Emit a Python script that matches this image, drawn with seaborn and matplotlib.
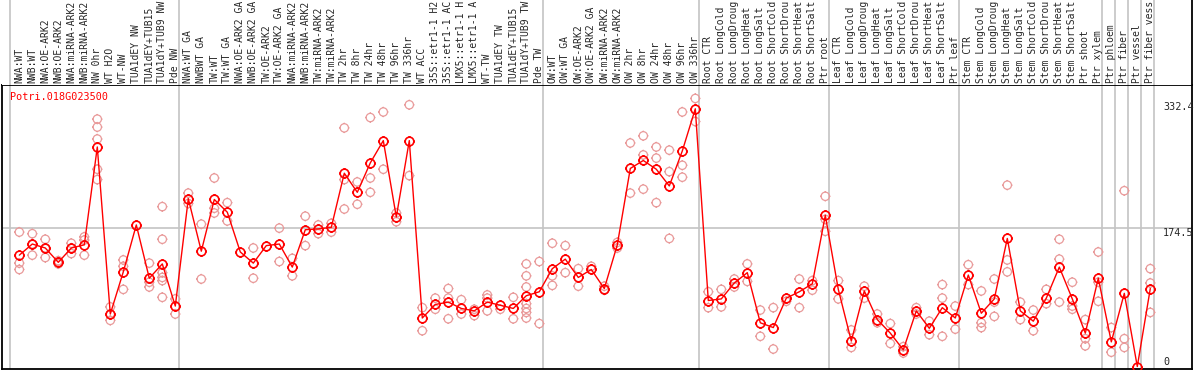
import numpy as np
import pandas as pd
import matplotlib
matplotlib.use("Agg")
import matplotlib.pyplot as plt
import matplotlib.transforms as mtransforms
from matplotlib.path import Path
import seaborn as sns

sns.set_theme(style="white")
plt.rcParams["font.family"] = ["DejaVu Sans Mono", "DejaVu Sans"]

GENE = "Potri.018G023500"

labels = [
    # group 1
    "NWA:WT", "NWB:WT", "NWA:OE-ARK2", "NWB:OE-ARK2", "NWA:miRNA-ARK2", "NWB:miRNA-ARK2",
    "NW 0hr", "WT H2O", "WT-NW", "TUA1dEY NW", "TUA1dEY+TUB15", "TUA1dY+TUB9 NW", "Pde NW",
    # group 2
    "NWA:WT GA", "NWBWT GA", "TW:WT", "TW:WT GA", "NWA:OE-ARK2 GA", "NWB:OE-ARK2 GA",
    "TW:OE-ARK2", "TW:OE-ARK2 GA", "NWA:miRNA-ARK2", "NWB:miRNA-ARK2", "TW:miRNA-ARK2",
    "TW:miRNA-ARK2", "TW 2hr", "TW 8hr", "TW 24hr", "TW 48hr", "TW 96hr", "TW 336hr",
    "WT ACC", "35S::etr1-1 H2O", "35S::etr1-1 ACC", "LMX5::etr1-1 H2O", "LMX5::etr1-1 ACC",
    "WT-TW", "TUA1dEY TW", "TUA1dEY+TUB15", "TUA1dY+TUB9 TW", "Pde TW",
    # group 3
    "OW:WT", "OW:WT GA", "OW:OE-ARK2", "OW:OE-ARK2 GA", "OW:miRNA-ARK2", "OW:miRNA-ARK2",
    "OW 2hr", "OW 8hr", "OW 24hr", "OW 48hr", "OW 96hr", "OW 336hr",
    # root
    "Root CTR", "Root LongCold", "Root LongDrought", "Root LongHeat", "Root LongSalt",
    "Root ShortCold", "Root ShortDrought", "Root ShortHeat", "Root ShortSalt", "Ptr root",
    # leaf
    "Leaf CTR", "Leaf LongCold", "Leaf LongDrought", "Leaf LongHeat", "Leaf LongSalt",
    "Leaf ShortCold", "Leaf ShortDrought", "Leaf ShortHeat", "Leaf ShortSalt", "Ptr leaf",
    # stem
    "Stem CTR", "Stem LongCold", "Stem LongDrought", "Stem LongHeat", "Stem LongSalt",
    "Stem ShortCold", "Stem ShortDrought", "Stem ShortHeat", "Stem ShortSalt", "Ptr shoot",
    "Ptr xylem",
    # tissues
    "Ptr phloem", "Ptr fiber", "Ptr vessel", "Ptr fiber vessel",
]

# the header strip only has room for about 14 characters
MAX_CHARS = 14

# group boundaries (index of first sample in each group, plus the end)
group_breaks = [0, 13, 41, 53, 63, 73, 84, 85, 86, 87, 88]

means = [
    140, 154, 149, 131, 149, 153, 276, 66, 119, 178, 111, 129, 76,
    211, 145, 210, 194, 144, 130, 152, 154, 125, 172, 173, 175, 243, 219, 256, 284,
    188, 284, 61, 78, 81, 73, 70, 81, 77, 73, 89, 94,
    123, 135, 112, 122, 98, 153, 249, 259, 248, 227, 271, 324,
    83, 85, 105, 118, 55, 49, 86, 94, 104, 190,
    97, 32, 95, 59, 42, 21, 70, 48, 74, 61,
    115, 67, 85, 161, 70, 57, 86, 125, 85, 42, 111,
    31, 92, 0, 98,
]

reps = [
    [169, 130, 122], [167, 154, 140], [160, 149, 137], [133, 131, 129], [155, 149, 142],
    [163, 159, 140], [311, 301, 286, 248, 235], [75, 66, 58], [134, 126, 97], [],
    [130, 106, 100], [201, 160, 118, 112, 108, 87], [85, 66],
    [218, 205], [179, 110], [237, 199, 193], [206, 183], [], [149, 111], [],
    [174, 132], [136, 114], [189, 152], [178, 167], [180, 169], [300, 235, 198],
    [232, 204], [313, 237, 219], [320, 248], [193, 182], [329, 240], [74, 45],
    [86, 72], [98, 86, 60], [84, 66], [72, 64], [90, 86, 70], [72], [87, 60],
    [129, 114, 100, 79, 73, 68, 61], [132, 54],
    [155, 114, 102], [152, 118], [123, 101], [126], [101, 96], [156, 149],
    [281, 218], [290, 266, 223], [276, 262, 206], [272, 245, 161], [320, 253, 238],
    [337, 308],
    [94, 74], [97, 75], [110, 100], [129, 107], [71, 38], [74, 22], [82], [110, 74],
    [108, 96], [214, 185, 170],
    [108, 85], [46, 24], [101, 86], [66, 55], [54, 29], [25, 17], [74, 66], [57, 40],
    [103, 86, 38], [76, 47],
    [128, 103], [95, 55, 49], [110, 81, 63], [228, 134, 119], [81, 59], [71, 45],
    [97, 79], [160, 135, 81], [106, 76, 72], [59, 35, 26], [144, 106, 82],
    [49, 18], [221, 35, 24], [], [123, 105, 68],
]

y_ticks = [332.4, 174.5, 0]

mean_df = pd.DataFrame({"idx": np.arange(len(labels)), "value": means})
rep_df = pd.DataFrame(
    [(i, v) for i, vals in enumerate(reps) for v in vals], columns=["idx", "value"]
)


def tick_circle(tick=1.25):
    circ = Path.unit_circle()
    verts = list(circ.vertices)
    codes = list(circ.codes)
    for ang in (0, 90, 180, 270):
        a = np.deg2rad(ang)
        verts += [(np.cos(a), np.sin(a)), (tick * np.cos(a), tick * np.sin(a))]
        codes += [Path.MOVETO, Path.LINETO]
    return Path(verts, codes)


MARK = tick_circle()
RED = "#FF0000"
PINK = "#E99A9A"
GRID = "#C4C4C4"

W, H = 1194, 370
fig = plt.figure(figsize=(W / 100, H / 100), dpi=100)
left, right = 1.5 / W, 1192 / W
ax = fig.add_axes([left, 1 / H, right - left, 284 / H])
ax_lab = fig.add_axes([left, 285 / H, right - left, 85 / H], sharex=ax)

# x: sample index; pixel = 19.3 + 13 * idx
x0, x1 = (1.5 - 19.3) / 13, (1192 - 19.3) / 13
sep_off = (10 - 19.3) / 13

for a in (ax, ax_lab):
    for b in group_breaks:
        a.axvline(b + sep_off, color=GRID, lw=1.2, zorder=0)

ax.axhline(174.5, color=GRID, lw=1.2, zorder=0)

sns.scatterplot(data=rep_df, x="idx", y="value", marker=MARK, s=56,
                facecolor="none", edgecolor=PINK, linewidth=0.9, ax=ax, zorder=2)
sns.lineplot(data=mean_df, x="idx", y="value", sort=False, errorbar=None,
             color=RED, linewidth=1.0, marker=MARK, markersize=7.8,
             markerfacecolor="none", markeredgecolor=RED, markeredgewidth=1.2,
             ax=ax, zorder=3)

for a in (ax, ax_lab):
    a.set_xticks([])
    a.set_yticks([])
    a.set_xlabel("")
    a.set_ylabel("")
ax.set_xlim(x0, x1)
ax.set_ylim(-3.1, 353.9)

for sp in ax.spines.values():
    sp.set_color("black")
    sp.set_linewidth(1.3)
for name, sp in ax_lab.spines.items():
    sp.set_visible(name == "right")
    sp.set_color("black")
    sp.set_linewidth(1.3)

# y-scale labels on the right, inside the plot
tx = (1163 - 19.3) / 13
ax.text(tx, y_ticks[0], f"{y_ticks[0]}", va="top", ha="left", fontsize=7.3)
ax.text(tx, y_ticks[1], f"{y_ticks[1]}", va="top", ha="left", fontsize=7.3)
ax.text(tx, y_ticks[2], f"{y_ticks[2]}", va="bottom", ha="left", fontsize=7.3)

ax.text(sep_off, 339, GENE, color=RED, va="center", ha="left", fontsize=7.3)

# rotated sample labels in the header strip
trans = mtransforms.blended_transform_factory(ax_lab.transData, ax_lab.transAxes)
for i, lab in enumerate(labels):
    ax_lab.text(i, 2 / 85, lab[:MAX_CHARS], rotation=90, ha="center", va="bottom",
                fontsize=7.0, transform=trans, clip_on=False)

fig.savefig("out.png", dpi=100)
